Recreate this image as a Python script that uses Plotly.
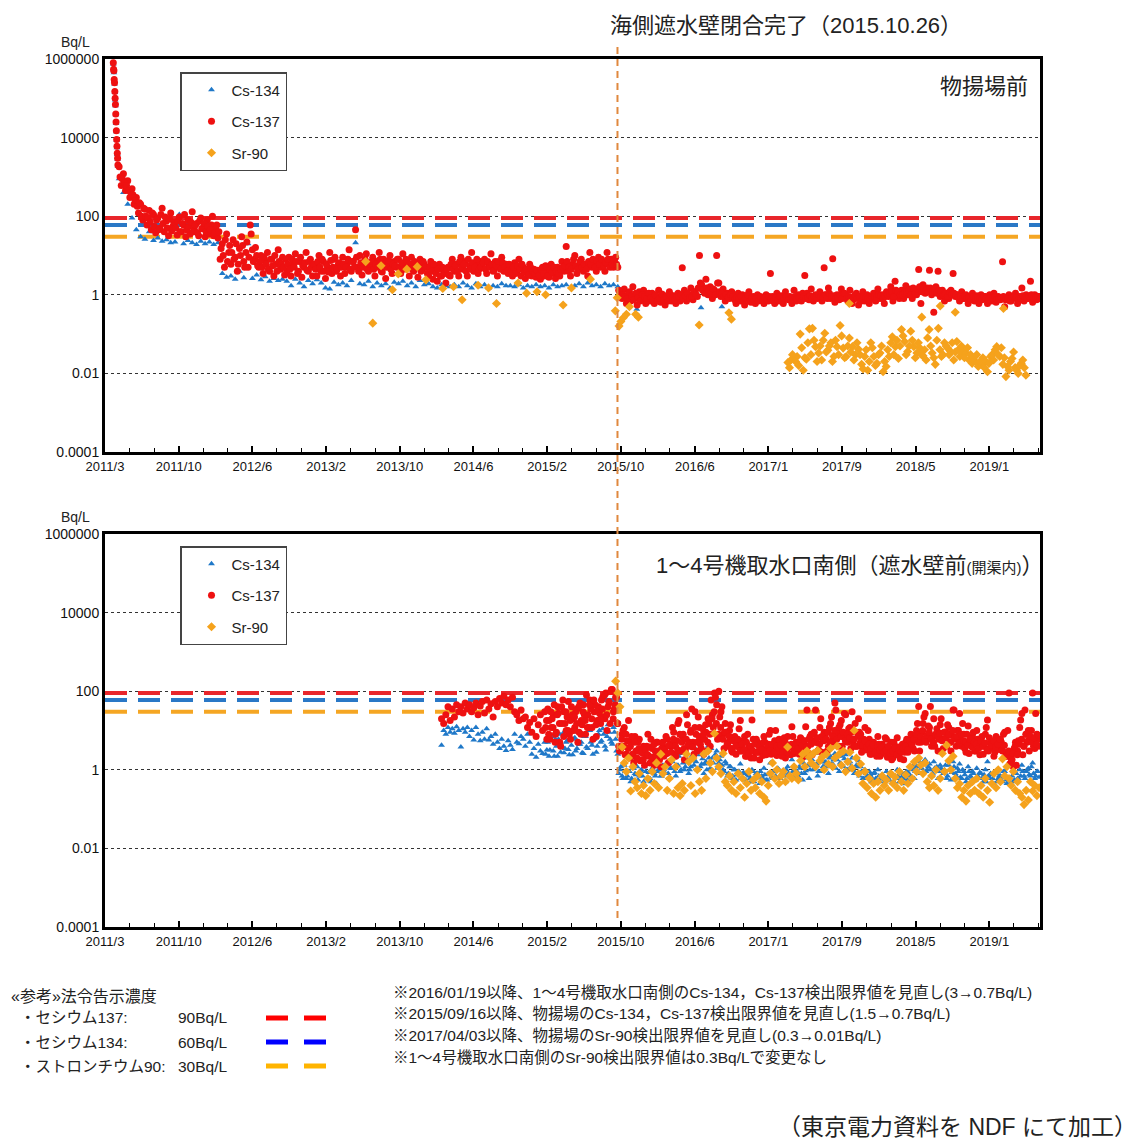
import pandas as pd
import plotly.graph_objects as go

# ---------------- axes ----------------
X_TICK_DATES = ["2011-03-01", "2011-10-27", "2012-06-23", "2013-02-18", "2013-10-16", "2014-06-13",
                "2015-02-08", "2015-10-06", "2016-06-03", "2017-01-28", "2017-09-25", "2018-05-23", "2019-01-18"]
X_TICK_LABELS = ["2011/3", "2011/10", "2012/6", "2013/2", "2013/10", "2014/6",
                 "2015/2", "2015/10", "2016/6", "2017/1", "2017/9", "2018/5", "2019/1"]
Y_TICK_VALUES = [1e-4, 1e-2, 1, 1e2, 1e4, 1e6]
Y_TICK_LABELS = ["0.0001", "0.01", "1", "100", "10000", "1000000"]
X_RANGE = ["2011-03-01", "2019-07-02"]
LIMITS = [90, 60, 30]                # Cs-137, Cs-134, Sr-90 (Bq/L)
CLOSURE_DATE = "2015-09-25"

# ---------------- 物揚場前 (top panel) ----------------
top_early_dates = ["2011-03-28", "2011-03-29", "2011-03-30", "2011-03-31", "2011-04-01", "2011-04-02",
                   "2011-04-03", "2011-04-04", "2011-04-05", "2011-04-06", "2011-04-07", "2011-04-08",
                   "2011-04-09", "2011-04-10", "2011-04-11", "2011-04-12"]
top_early_cs137 = [800000, 550000, 500000, 300000, 250000, 150000, 100000, 70000, 40000, 25000,
                   15000, 9000, 6000, 4000, 3000, 2000]
top_early_cs134 = [750000, 500000, 450000, 280000, 230000, 140000, 90000, 65000, 38000, 23000,
                   14000, 8500, 5500, 3700, 2800, 1900]

top_cs137_a_start = "2011-04-16"   # weekly
top_cs137_a = [
    1800, 600, 1200, 450, 800, 300, 500, 200, 300, 120, 200, 80, 150,
    60, 140, 45, 110, 38, 90, 50, 160, 40, 75, 32, 120, 55,
    70, 33, 95, 40, 60, 30, 80, 35, 130, 45, 65, 32, 90,
    50, 30, 80, 35, 60, 32, 45, 28, 8, 20, 5, 35, 12,
    6, 25, 9, 4, 15, 30, 7, 12, 5, 60, 14, 8, 10,
    5, 10, 3.5, 7, 12, 4, 8, 3, 6, 14, 4.5, 9, 3.2,
    4, 9, 3, 6, 11, 3.5, 7, 2.8, 5, 12, 4, 8, 3,
    6, 3, 10, 4, 7, 2.6, 5, 12, 3.5, 8, 4, 6, 3,
    9, 3.5, 6, 14, 4, 7, 45, 5, 10, 3.2, 6, 11, 4,
    5, 9, 3, 7, 12, 4, 8, 2.6, 6, 10, 3.5, 7, 5,
    8, 3.5, 11, 5, 7, 3, 9, 4, 6, 2.8, 8, 4.5, 6,
    5, 3, 7, 2.5, 4.5, 2.2, 6, 3, 4, 2, 5, 3, 8,
    4, 6, 3, 9, 4.5, 7, 3, 5.5, 12, 4, 6, 3.5, 7,
    5, 8, 3.5, 6, 11, 4, 7, 3, 5, 9, 4, 6, 3.5,
    5, 3, 6.5, 4, 8, 3, 5, 2.6, 4, 6, 3, 4.5, 2.8,
    4, 2.5, 5, 3, 4, 2.8, 6, 3.5, 2.6, 5, 3, 7, 4,
    17, 4, 3, 6, 10, 3.5, 5, 8, 4, 6, 3, 12, 5,
    6, 4, 9, 5, 7, 4, 12, 6, 8, 5, 9, 5, 1.2,
    0.8, 1.4, 0.6, 1.1, 0.7, 1.6, 0.9, 0.55, 1.2, 0.75, 1.3, 0.6, 1.0,
    0.7, 1.1, 0.6, 0.9, 1.3, 0.65, 1.0, 0.55, 0.85, 1.2, 0.7, 0.95, 0.6,
    1.1, 0.7, 4.9, 1.3, 0.7, 1.0, 1.5, 0.75, 1.2, 0.9, 10, 1.8, 1.4,
    2.5, 1.0, 1.6, 0.8, 1.3, 10, 2.0, 0.9, 1.4, 0.7, 1.1, 0.8, 1.2,
    0.9, 0.6, 1.1, 0.7, 1.0, 0.55, 0.85, 1.2, 0.65, 0.9, 0.6, 1.0, 0.75,
    0.8, 0.6, 1.0, 0.7, 3.5, 0.9, 0.6, 1.1, 0.7, 0.95, 0.6, 1.2, 0.8,
    0.9, 0.6, 1.3, 0.7, 1.0, 0.8, 1.1, 3.1, 1.1, 0.75, 1.4, 0.7, 1.0,
    0.8, 1.2, 0.7, 4.9, 1.0, 1.5, 0.8, 8.3, 0.65, 1.0, 0.75, 1.4, 0.9,
    1.0, 0.7, 1.3, 0.6, 0.9, 1.1, 0.55, 0.8, 1.2, 0.7, 1.0, 0.6, 0.9,
    1.1, 0.7, 1.4, 0.8, 1.0, 0.6, 1.2, 0.9, 1.6, 0.7, 2.2, 1.0, 0.8,
    1.3, 0.8, 1.7, 1.0, 1.4, 0.8, 1.2, 1.0, 4.4, 0.6, 1.8, 1.1, 1.5,
    4.2, 1.0, 0.36, 1.6, 4.0, 0.9, 1.3, 0.7, 1.1, 0.8, 1.3, 3.5, 0.9,
    1.0, 0.7, 1.2, 0.8, 1.0, 0.6, 0.9, 1.1, 0.7, 0.95, 0.6, 1.0, 0.8,
    0.9, 0.6, 1.0, 0.7, 1.1, 0.65, 0.9, 0.75, 6.9, 0.5, 0.85, 1.0, 0.7,
    0.8, 1.1, 0.6, 0.9, 1.5, 0.7, 1.0, 0.8, 2.2, 0.65, 1.0, 0.75, 0.9,
]
top_cs137_b_start = "2011-04-19"   # weekly, second daily sample
top_cs137_b = [
    1000, 900, 700, 600, 450, 400, 350, 250, 180, 220, 100, 160, 100,
    90, 70, 120, 55, 80, 45, 110, 65, 95, 50, 85, 42, 70,
    50, 75, 40, 65, 110, 45, 55, 70, 40, 60, 38, 75, 48,
    65, 40, 55, 45, 100, 38, 60, 40, 15, 10, 25, 7, 18,
    12, 8, 20, 6, 10, 18, 5, 22, 9, 35, 7, 16, 5.5,
    7, 5, 9, 6, 4.5, 8, 5.5, 10, 4, 7, 6, 5, 8,
    6, 4.5, 8, 5, 7, 4, 9, 5.5, 6.5, 4.2, 7, 5, 6,
    4.5, 7, 5, 8, 4, 6, 3.8, 7.5, 5, 9, 4.5, 6.5, 5,
    6, 5, 8, 4.5, 7, 5, 9, 4, 6.5, 5, 8, 4.5, 6,
    7, 4.5, 6, 5, 8, 3.8, 6, 5, 7.5, 4.5, 6, 5.5, 8,
    5, 6.5, 4.5, 8, 5, 6, 4.5, 7, 5, 6, 4, 7, 5,
    3.5, 5, 4, 6, 3.5, 4.5, 3, 5, 3.5, 4.5, 3.2, 6, 4.5,
    5.5, 4, 7, 5, 6, 4, 8, 4.5, 6.5, 5, 8, 4.5, 5,
    6.5, 4.5, 7, 5, 6, 4.2, 5.5, 7, 4.5, 6.5, 5, 4, 6,
    4, 5, 3.5, 5.5, 4.5, 6, 3.8, 4.5, 3.2, 5, 4, 3.5, 4.2,
    3.2, 4.5, 3.5, 5.5, 3, 4.5, 3.8, 5, 4, 3.5, 4.5, 5, 5.5,
    7, 5, 4.5, 8, 5.5, 4.5, 7, 5, 6, 4.5, 7, 6, 8,
    5, 7, 6, 8, 5.5, 6.5, 8, 5, 6, 7.5, 6, 1.3, 0.9,
    1.0, 0.9, 0.8, 1.2, 0.95, 0.75, 1.1, 0.85, 0.7, 1.0, 0.9, 0.8, 1.1,
    0.85, 0.75, 1.0, 0.7, 0.8, 1.05, 0.75, 0.9, 0.7, 1.0, 0.85, 0.75, 0.9,
    0.9, 1.0, 0.8, 0.95, 1.1, 0.85, 0.9, 1.2, 1.0, 1.5, 2.0, 1.3, 1.1,
    1.5, 1.3, 1.1, 1.4, 1.0, 2.0, 1.2, 1.1, 0.9, 1.0, 0.85, 1.0, 0.9,
    0.75, 0.85, 0.8, 0.9, 0.7, 0.8, 1.0, 0.7, 0.85, 0.75, 0.8, 0.7, 0.9,
    0.7, 0.85, 0.75, 0.9, 0.8, 0.7, 0.85, 0.75, 0.9, 0.7, 0.8, 0.9, 0.75,
    0.75, 0.85, 0.9, 0.8, 0.85, 0.7, 0.9, 0.8, 0.85, 0.95, 0.8, 0.9, 0.85,
    1.0, 0.9, 0.85, 1.0, 0.8, 1.1, 0.9, 0.95, 0.8, 0.85, 1.0, 0.8, 1.1,
    0.8, 0.9, 0.85, 0.75, 1.0, 0.8, 0.9, 0.7, 0.9, 0.85, 0.8, 0.75, 0.85,
    0.9, 0.85, 1.0, 0.95, 0.8, 0.9, 1.0, 1.1, 1.2, 0.9, 1.3, 1.2, 1.0,
    1.0, 1.1, 1.2, 1.3, 1.0, 1.5, 1.1, 1.4, 1.6, 1.2, 1.4, 1.3, 1.2,
    1.5, 1.2, 1.4, 1.1, 1.3, 1.2, 1.0, 1.1, 0.9, 1.2, 1.0, 1.1, 1.0,
    0.85, 0.9, 0.8, 0.95, 0.8, 0.85, 0.75, 0.9, 0.8, 0.85, 0.8, 0.75, 0.9,
    0.8, 0.75, 0.85, 0.8, 0.9, 0.75, 0.8, 0.85, 0.9, 0.75, 0.8, 0.7, 0.85,
    0.9, 0.85, 0.75, 0.8, 0.95, 0.85, 0.8, 0.9, 1.0, 0.8, 0.85, 0.9, 0.8,
]

top_cs134_start = "2011-04-16"   # every 14 days
top_cs134 = [
    900, 400, 200, 90, 45, 30, 26, 40, 24, 28, 23, 25, 21,
    22, 110, 20, 24, 21, 19, 23, 20, 22, 19, 21, 3.5, 2.8,
    3, 2.5, 4, 2.7, 20, 2.6, 3.2, 2.4, 2.9, 2.2, 2.6, 2.3, 2.5,
    2.2, 1.7, 2.5, 2.0, 1.6, 2.3, 1.9, 2.4, 2.0, 1.5, 1.4, 2.1, 1.8,
    2.0, 1.7, 2.3, 21, 1.9, 1.8, 2.2, 1.6, 2.0, 1.7, 1.9, 1.5, 2.1,
    1.9, 2.2, 1.7, 2.0, 1.6, 2.3, 1.8, 1.9, 1.6, 1.5, 1.8, 1.7, 1.6,
    1.8, 1.6, 2.0, 1.7, 1.5, 1.9, 1.6, 1.8, 1.5, 1.7, 1.6, 1.9, 1.7,
    1.7, 1.6, 1.8, 1.5, 1.7, 1.6, 1.8, 1.6, 1.7, 1.5, 1.8, 1.6, 1.7,
    1.8, 5.0, 1.7, 1.9, 1.6, 2.0, 1.7, 1.8, 1.6, 1.9, 1.7, 1.8, 1.6,
]
top_cs134_late_dates = ["2015-11-27", "2016-06-23", "2016-08-30"]
top_cs134_late = [0.43, 0.47, 0.5]

top_sr90_dates = ["2013-06-27", "2013-07-20", "2013-08-16", "2013-09-22", "2013-10-11", "2013-11-08",
                  "2013-12-12", "2014-01-09", "2014-03-05", "2014-04-09", "2014-05-07", "2014-06-28",
                  "2014-08-01", "2014-08-27", "2014-11-05", "2014-12-03", "2015-01-06", "2015-02-03",
                  "2015-04-01", "2015-04-28", "2015-06-29", "2015-09-18", "2015-09-24", "2015-09-30",
                  "2015-10-06", "2015-10-14", "2015-10-24", "2015-11-03", "2015-11-23", "2015-12-02",
                  "2016-06-17", "2016-09-22", "2016-09-30", "2017-10-19", "2018-06-12", "2018-08-11",
                  "2018-09-29", "2019-03-05"]
top_sr90 = [7.0, 0.19, 5.5, 1.35, 3.4, 4.5, 5.2, 2.4, 1.45, 1.6, 0.75, 1.75, 1.5, 0.6, 2.0, 1.1,
            1.2, 1.0, 0.55, 1.5, 2.5, 0.39, 0.84, 0.16, 0.21, 0.26, 0.32, 0.5, 0.32, 0.27, 0.17,
            0.35, 0.24, 0.6, 0.27, 0.52, 0.36, 0.45]
top_sr90_a_start = "2017-04-02"   # every 10 days
top_sr90_a = [
    0.019, 0.022, 0.024, 0.027, 0.10, 0.012, 0.023, 0.136, 0.14, 0.048, 0.033, 0.022, 0.105,
    0.039, 0.06, 0.027, 0.048, 0.165, 0.044, 0.027, 0.079, 0.048, 0.03, 0.041, 0.017, 0.027,
    0.012, 0.06, 0.027, 0.018, 0.033, 0.011, 0.015, 0.027, 0.085, 0.048, 0.024, 0.13, 0.065,
    0.036, 0.118, 0.048, 0.033, 0.044, 0.028, 0.022, 0.13, 0.033, 0.017, 0.14, 0.027, 0.06,
    0.044, 0.036, 0.022, 0.065, 0.027, 0.036, 0.033, 0.022, 0.018, 0.020, 0.015, 0.017, 0.014,
    0.011, 0.027, 0.022, 0.048, 0.027, 0.017, 0.0083, 0.012, 0.024, 0.014, 0.010, 0.018, 0.014,
]
top_sr90_b_start = "2017-04-07"   # every 10 days
top_sr90_b = [
    0.014, 0.03, 0.02, 0.016, 0.045, 0.025, 0.06, 0.03, 0.07, 0.02, 0.05, 0.07, 0.035,
    0.05, 0.02, 0.07, 0.03, 0.09, 0.025, 0.05, 0.035, 0.022, 0.06, 0.03, 0.013, 0.04,
    0.02, 0.045, 0.016, 0.03, 0.05, 0.02, 0.04, 0.06, 0.03, 0.07, 0.05, 0.09, 0.03,
    0.05, 0.07, 0.025, 0.06, 0.03, 0.04, 0.08, 0.05, 0.025, 0.07, 0.04, 0.03, 0.05,
    0.03, 0.06, 0.035, 0.04, 0.05, 0.025, 0.045, 0.03, 0.025, 0.03, 0.02, 0.025, 0.02,
    0.018, 0.03, 0.04, 0.03, 0.045, 0.025, 0.015, 0.02, 0.035, 0.012, 0.016, 0.022, 0.009,
]

# ---------------- 1~4号機取水口南側 (bottom panel) ----------------
south_cs137_a_start = "2014-03-01"   # weekly
south_cs137_a = [
    20, 15, 25, 40, 18, 35, 22, 45, 30, 40, 28, 50, 35,
    45, 30, 38, 50, 25, 42, 55, 28, 60, 35, 48, 22, 55,
    40, 65, 50, 74, 45, 60, 40, 70, 30, 25, 18, 33, 20,
    22, 12, 16, 9, 20, 7, 14, 25, 10, 30, 6, 18, 12,
    25, 8, 40, 5, 15, 30, 10, 55, 6, 20, 12, 35, 9,
    18, 45, 8, 25, 60, 12, 30, 7, 40, 15, 70, 20, 10,
    50, 110, 30, 70, 15, 3, 8, 12, 2.5, 18, 5, 2.2, 7,
    3, 6, 1.8, 4, 2.3, 8, 1.5, 3.5, 1.3, 5, 2, 1.2, 4,
    2.5, 6, 1.6, 4.5, 9, 2.2, 15, 3, 7, 1.8, 25, 4, 10,
    5, 30, 3, 12, 6, 2.5, 9, 20, 4, 25, 90, 45, 100,
    30, 8, 15, 4, 10, 3, 6, 2.5, 5, 18, 3.5, 7, 2.2,
    4, 2, 6, 2.8, 5, 1.8, 3.5, 7, 2.4, 4.5, 10, 3, 5.5,
    2.3, 6, 3.2, 4.5, 2, 7, 3.8, 12.5, 2.6, 5, 3, 6.5, 2.1,
    4, 33, 2.6, 8, 5.5, 33, 3, 12, 2.8, 9, 6, 4, 15,
    6, 50, 10, 4, 18, 7, 25, 5, 12, 30, 4, 9, 20,
    8, 3.5, 12, 4, 6, 2.5, 5, 3, 7, 2.2, 4.5, 2.8, 6,
    3, 5, 2, 4, 6.5, 2.5, 3.5, 1.8, 5, 2.8, 4, 7, 3,
    10, 41, 5, 15, 27, 7, 12, 4, 20, 8, 3, 14, 6,
    9, 4, 12, 3, 33, 6, 10, 27, 4, 8, 2.8, 13, 5,
    7, 3, 10, 4, 6, 2.5, 8, 18.5, 3.5, 5, 2.2, 7, 4,
    6, 3, 9, 2.5, 90, 1.5, 1.2, 5, 3, 12, 27, 4, 8,
    10, 6, 90, 3.5, 8, 4,
]
south_cs137_b_start = "2015-02-03"   # weekly
south_cs137_b = [
    12, 35, 6, 20, 45, 9, 28, 4, 60, 15, 22, 8, 40,
    10, 30, 5, 50, 14, 25, 80, 12, 35, 6, 45, 18, 28,
    60, 22, 90, 40, 15, 110, 35, 70, 4, 3.5, 10, 2.4, 5.5,
    2, 7, 1.5, 3, 5, 1.7, 2.7, 1.3, 4, 2.2, 6, 1.6, 3,
    5, 1.8, 3.5, 2.2, 7, 1.5, 4, 12, 2.5, 5.5, 18, 3, 8,
    3, 14, 5, 35, 2.5, 8, 22, 4.5, 11, 6, 3, 15, 60,
    12, 70, 6, 22, 40, 3.5, 9, 5, 14, 2.8, 7, 4, 11,
    3, 5.5, 2.2, 8, 3.5, 18.5, 2, 6, 2.8, 4.5, 2.3, 5, 3.5,
    8, 2.5, 4, 10, 3, 5.5, 2.2, 6.5, 3.5, 4.2, 2.4, 7, 3,
    5, 2.5, 6, 3.5, 12.5, 4, 7, 2.4, 9, 5, 3.2, 20, 6,
    8, 3, 12, 22, 5, 33, 8.5, 14, 4, 27, 6, 11, 3.5,
    5, 15, 4, 9, 2.8, 6, 3.2, 10, 2.5, 5, 3.5, 2.2, 4.5,
    2.5, 4, 6.5, 2.1, 3.5, 1.8, 5, 2.6, 3.8, 1.9, 4.5, 2.8, 6,
    4, 8, 3.5, 6, 15, 3, 9, 22, 5, 13, 41, 7, 4,
    11, 6, 20, 3.5, 9, 14, 5, 7.5, 33, 4, 10, 6, 15,
    3.5, 8, 2.6, 5.5, 9, 3, 6, 2.4, 7, 4, 12, 3, 5,
    4, 2.8, 6, 3.3, 5, 8, 2.2, 10, 1.4, 1.8, 3.5, 1.3, 5.5,
    18.5, 2.4, 33, 5, 3, 10, 4, 27, 6,
]
south_cs137_c_start = "2015-02-06"   # weekly
south_cs137_c = [
    18, 8, 30, 12, 5, 25, 15, 40, 7, 30, 10, 18, 25,
    22, 15, 40, 8, 30, 18, 12, 45, 20, 60, 14, 35, 20,
    35, 80, 25, 55, 100, 20, 45, 15, 3, 6, 4, 8, 3.5,
    4, 2.5, 5, 2, 3.5, 2.8, 1.8, 3.2, 2.4, 3.8, 2.1, 4.5, 2.3,
    3, 2.4, 5, 3.2, 2.6, 4.2, 2.8, 6, 4, 3.2, 8, 5, 3.5,
    6, 4.5, 9, 3.8, 12, 5, 7, 3.5, 8, 14, 5, 8, 20,
    30, 15, 8, 12, 6, 9, 4.5, 7, 3.5, 5.5, 4, 6, 3,
    4.5, 3.2, 5, 2.6, 4, 3, 4.5, 2.8, 3.8, 3.2, 5, 2.6, 4.2,
    3.2, 4.5, 2.8, 4, 3.5, 4.2, 3, 5, 2.8, 3.8, 4.5, 3, 4.2,
    3.5, 5, 4.2, 5.5, 3.8, 6, 4.5, 8, 5, 6.5, 4.5, 7, 5.5,
    6, 9, 5, 7.5, 10, 6, 12, 7, 9, 5.5, 8, 6.5, 9,
    6, 4, 7, 5, 4.2, 5.5, 3.8, 4.5, 3.5, 4.2, 2.8, 4, 3.2,
    3.8, 2.8, 3.2, 4, 2.6, 3, 3.6, 2.4, 3.2, 2.9, 3.5, 4, 3.2,
    5.5, 4.5, 6, 8, 5, 7, 10, 6, 7.5, 9, 6, 5, 8,
    7, 8.5, 5.5, 9, 6.5, 8, 5, 10, 6.5, 7, 4.8, 8, 5.5,
    5.2, 4.2, 6, 3.8, 5, 4.5, 3.5, 5.5, 4, 4.8, 3.2, 6.5, 4.2,
    5.5, 3.8, 4.5, 6, 3.2, 4.2, 2.2, 3, 2, 2.6, 4, 2.4, 4.5,
    6, 4, 8, 5.5, 7, 5, 6.5, 4.5, 7.5,
]
south_cs134_a_start = "2014-03-01"   # weekly
south_cs134_a = [
    4.2, 10, 8, 12, 9, 11, 8.5, 12.5, 10, 3.8, 11, 9, 12,
    7, 10, 5.7, 12, 8, 5.5, 9, 6, 11, 5.7, 7, 4.5, 8,
    5, 3.5, 6, 4, 3.1, 5.5, 4.2, 3.3, 8, 5, 4.6, 7, 6,
    4, 8, 5, 2.5, 3.5, 2.1, 4.5, 3, 2.6, 5, 3.2, 2.2, 6,
    3, 6, 2.2, 8, 4, 2.7, 5, 3.3, 9, 2.4, 6.5, 3.5, 4.5,
    5, 2.6, 7, 3.5, 10, 4.2, 6, 2.8, 8, 5, 11, 4, 7,
    9, 5, 12, 6, 2.5, 1.0, 0.7, 1.3, 0.6, 0.9, 0.5, 1.1, 0.8,
    1.2, 0.7, 1.0, 0.5, 0.9, 1.4, 0.6, 1.1, 0.8, 0.45, 1.0, 0.7, 1.3,
    0.8, 1.5, 0.6, 1.1, 2.0, 0.7, 1.3, 0.9, 2.6, 1.0, 1.6, 0.8, 1.2,
    1.8, 3.5, 1.0, 2.4, 1.4, 0.8, 1.6, 4.0, 1.1, 2.0, 8, 3, 1.5,
    2.2, 1.0, 1.6, 0.7, 1.2, 0.6, 1.0, 0.55, 0.9, 1.4, 0.6, 0.8, 0.5,
    0.7, 0.5, 0.9, 0.6, 0.8, 0.45, 0.7, 1.1, 0.55, 0.8, 1.5, 0.6, 0.9,
    0.6, 1.0, 0.7, 0.85, 0.5, 1.2, 0.75, 1.8, 0.6, 0.9, 0.7, 1.1, 0.55,
    0.8, 2.0, 0.6, 1.3, 1.0, 2.6, 0.7, 1.6, 0.9, 1.2, 1.5, 0.8, 2.2,
    1.4, 2.6, 1.8, 0.9, 2.2, 1.2, 2.4, 1.0, 1.6, 2.0, 0.8, 1.3, 1.7,
    1.2, 0.6, 1.0, 0.7, 0.9, 0.5, 0.8, 0.6, 1.0, 0.5, 0.75, 0.55, 0.9,
    0.55, 0.8, 0.45, 0.7, 1.0, 0.5, 0.65, 0.44, 0.85, 0.55, 0.7, 1.1, 0.6,
    1.2, 2.0, 0.8, 1.5, 1.8, 1.0, 1.4, 0.7, 1.6, 1.1, 0.6, 1.3, 0.9,
    1.0, 0.6, 1.3, 0.55, 1.6, 0.8, 1.1, 1.4, 0.6, 0.9, 0.5, 1.2, 0.7,
    0.9, 0.55, 1.1, 0.6, 0.8, 0.5, 1.0, 1.6, 0.6, 0.75, 0.45, 0.9, 0.6,
    0.7, 0.5, 0.9, 0.45, 1.5, 0.44, 0.5, 0.8, 0.6, 1.0, 1.3, 0.7, 0.9,
    1.1, 0.7, 1.5, 0.6, 0.9, 0.65,
]
south_cs134_b_start = "2015-02-03"   # weekly
south_cs134_b = [
    2.5, 5, 3.2, 7, 2.2, 4, 6, 2.8, 8.4, 3.5, 5.5, 2.4, 4.2,
    6, 3, 9, 4.5, 2.7, 7, 3.8, 12, 5, 2.5, 6.5, 4, 10,
    5.5, 8, 3.2, 14, 6, 4.5, 9, 3, 0.8, 1.2, 0.6, 0.9, 0.7,
    0.9, 0.6, 1.1, 0.75, 0.55, 0.95, 0.7, 1.2, 0.6, 0.85, 0.5, 1.0, 0.7,
    0.9, 1.2, 0.7, 1.0, 1.4, 0.8, 1.1, 1.6, 0.9, 1.3, 2.2, 1.0, 1.5,
    1.2, 1.8, 1.0, 2.2, 1.3, 1.6, 2.8, 1.2, 1.9, 1.4, 1.0, 2.0, 3.5,
    1.5, 2.5, 1.1, 1.8, 1.3, 0.9, 1.4, 0.8, 1.2, 0.7, 1.0, 0.75, 0.9,
    0.6, 0.85, 0.55, 0.75, 0.6, 1.0, 0.5, 0.8, 0.65, 0.9, 0.6, 0.75, 0.55,
    0.8, 0.65, 0.9, 0.7, 1.1, 0.6, 0.85, 0.7, 1.0, 0.8, 0.65, 0.9, 0.75,
    0.9, 1.2, 0.8, 1.5, 0.95, 1.3, 1.0, 1.8, 1.1, 1.4, 0.9, 1.6, 1.2,
    1.6, 1.2, 2.0, 1.4, 1.8, 1.1, 2.2, 1.5, 1.3, 1.9, 1.0, 1.5, 1.2,
    1.0, 0.8, 1.2, 0.7, 0.9, 0.6, 0.8, 0.65, 0.75, 0.6, 0.85, 0.55, 0.7,
    0.6, 0.7, 0.5, 0.65, 0.55, 0.75, 0.5, 0.6, 0.7, 0.5, 0.8, 0.6, 0.9,
    0.8, 1.0, 1.3, 0.9, 1.2, 1.6, 1.1, 1.4, 0.9, 1.2, 1.0, 0.8, 1.1,
    1.2, 0.9, 1.1, 0.8, 1.3, 0.7, 1.0, 0.85, 1.2, 0.7, 0.9, 0.65, 1.0,
    0.75, 0.6, 0.9, 0.65, 0.8, 0.55, 0.7, 0.85, 0.6, 0.75, 0.5, 0.7, 0.8,
    0.6, 0.8, 0.5, 0.7, 0.65, 0.9, 0.55, 0.6, 0.45, 0.7, 0.55, 0.8, 0.6,
    0.7, 0.9, 0.6, 1.0, 0.75, 1.2, 0.8, 0.7, 0.9,
]
south_sr90_start = "2015-09-19"   # weekly
south_sr90 = [
    180, 90, 40, 3.8, 1.5, 0.9, 2.0, 0.29, 1.2, 0.5, 0.35, 0.8, 0.25,
    0.4, 0.22, 0.6, 0.3, 0.9, 0.45, 1.5, 0.35, 2.5, 0.8, 1.2, 0.3, 0.6,
    1.8, 0.25, 1.2, 0.35, 0.22, 0.45, 0.3, 2.5, 1.6, 0.4, 2.0, 0.25, 1.0,
    0.5, 0.3, 2.5, 0.6, 3.0, 1.5, 0.9, 8.4, 2.0, 1.2, 0.8, 2.6, 0.5,
    0.4, 0.7, 0.3, 0.5, 0.25, 0.8, 0.35, 0.6, 0.2, 0.45, 0.9, 0.3, 0.55,
    0.35, 0.7, 0.25, 0.5, 0.2, 0.16, 0.4, 0.8, 1.5, 0.6, 1.0, 0.45, 0.7,
    0.9, 0.5, 3.8, 0.7, 0.6, 1.2, 0.8, 0.55, 1.7, 2.5, 1.2, 3.0, 2.1,
    1.5, 2.6, 1.2, 3.1, 1.7, 2.1, 1.0, 2.5, 1.4, 3.5, 1.2, 2.0, 4.0,
    2.5, 1.3, 3.0, 0.9, 1.6, 2.8, 1.1, 10, 2.0, 0.8, 1.4, 0.45, 0.9,
    0.35, 0.6, 0.25, 0.45, 0.2, 0.5, 0.3, 0.7, 0.4, 0.55, 0.3, 0.8, 0.45,
    0.65, 0.35, 0.9, 0.5, 0.3, 0.75, 0.45, 1.2, 0.6, 1.6, 0.9, 2.0, 1.3,
    0.8, 1.5, 0.5, 0.35, 0.7, 0.4, 1.0, 0.3, 0.6, 2.6, 0.9, 4.2, 1.7,
    1.0, 2.2, 0.6, 0.35, 0.44, 0.2, 0.3, 0.16, 0.4, 0.25, 0.5, 0.3, 0.6,
    0.25, 0.4, 0.2, 0.6, 0.3, 0.15, 0.45, 0.8, 0.35, 1.0, 0.5, 1.9, 0.7,
    1.2, 0.6, 0.4, 0.9, 0.3, 0.5, 0.25, 0.2, 0.13, 0.3, 0.17, 0.5, 0.29,
    0.4, 0.22, 0.35,
]

# ---------------- styling ----------------
COL = {"Cs-134": "#1f78c8", "Cs-137": "#ee1111", "Sr-90": "#f5a21c"}
SYM = {"Cs-134": "triangle-up", "Cs-137": "circle", "Sr-90": "diamond"}
SIZE = {"Cs-134": 6, "Cs-137": 7, "Sr-90": 7}
LIMIT_COLORS = ["#e8262b", "#2a78c6", "#f5a623"]
LATIN = "Liberation Sans, Arial, sans-serif"
JP = "Liberation Sans, Noto Sans CJK JP, sans-serif"

# page offset: the html body adds an 8px margin around the figure
OFF = 8
W = H = 1142 - OFF
# plot area in page pixels (used for text placement)
PL, PR, PT, PB = 105, 1040, 59, 927


def px(xp):
    return (xp - PL) / (PR - PL)


def py(yp):
    return (PB - yp) / (PB - PT)


def grid(start, vals, step):
    return pd.date_range(start, periods=len(vals), freq=f"{step}D")


fig = go.Figure()


def add_limits(xa, ya):
    for v, c in zip(LIMITS, LIMIT_COLORS):
        fig.add_trace(go.Scatter(x=X_RANGE, y=[v, v], mode="lines", xaxis=xa, yaxis=ya,
                                 line=dict(color=c, width=4, dash="22px,11px"),
                                 showlegend=False, hoverinfo="skip"))


def add_pts(name, x, y, xa, ya, legend, show):
    fig.add_trace(go.Scatter(x=list(x), y=y, mode="markers", name=name, xaxis=xa, yaxis=ya,
                             legend=legend, legendgroup=legend + name, showlegend=show,
                             marker=dict(symbol=SYM[name], color=COL[name], size=SIZE[name],
                                         line=dict(width=0))))


# top panel
add_limits("x", "y")
add_pts("Cs-134", grid(top_cs134_start, top_cs134, 14), top_cs134, "x", "y", "legend", True)
add_pts("Cs-134", top_early_dates, top_early_cs134, "x", "y", "legend", False)
add_pts("Cs-134", top_cs134_late_dates, top_cs134_late, "x", "y", "legend", False)
add_pts("Cs-137", grid(top_cs137_a_start, top_cs137_a, 7), top_cs137_a, "x", "y", "legend", True)
add_pts("Cs-137", grid(top_cs137_b_start, top_cs137_b, 7), top_cs137_b, "x", "y", "legend", False)
add_pts("Cs-137", top_early_dates, top_early_cs137, "x", "y", "legend", False)
add_pts("Sr-90", top_sr90_dates, top_sr90, "x", "y", "legend", True)
add_pts("Sr-90", grid(top_sr90_a_start, top_sr90_a, 10), top_sr90_a, "x", "y", "legend", False)
add_pts("Sr-90", grid(top_sr90_b_start, top_sr90_b, 10), top_sr90_b, "x", "y", "legend", False)

# bottom panel
add_limits("x2", "y2")
add_pts("Cs-134", grid(south_cs134_a_start, south_cs134_a, 7), south_cs134_a, "x2", "y2", "legend2", True)
add_pts("Cs-134", grid(south_cs134_b_start, south_cs134_b, 7), south_cs134_b, "x2", "y2", "legend2", False)
add_pts("Cs-137", grid(south_cs137_a_start, south_cs137_a, 7), south_cs137_a, "x2", "y2", "legend2", True)
add_pts("Cs-137", grid(south_cs137_b_start, south_cs137_b, 7), south_cs137_b, "x2", "y2", "legend2", False)
add_pts("Cs-137", grid(south_cs137_c_start, south_cs137_c, 7), south_cs137_c, "x2", "y2", "legend2", False)
add_pts("Sr-90", grid(south_sr90_start, south_sr90, 7), south_sr90, "x2", "y2", "legend2", True)

xa_common = dict(type="date", range=X_RANGE, tickmode="array", tickvals=X_TICK_DATES,
                 ticktext=X_TICK_LABELS, ticks="inside", ticklen=6, tickwidth=1.5, tickcolor="black",
                 showline=True, linewidth=3, linecolor="black", mirror=True, showgrid=False,
                 zeroline=False, tickfont=dict(family=LATIN, size=13, color="#111"),
                 minor=dict(ticks="inside", ticklen=4, tickcolor="black", tickwidth=1,
                            tick0=X_RANGE[0], dtick=80 * 86400000, showgrid=False))
ya_common = dict(type="log", range=[-4, 6], tickmode="array", tickvals=Y_TICK_VALUES,
                 ticktext=Y_TICK_LABELS, ticks="", showline=True, linewidth=3, linecolor="black",
                 mirror=True, showgrid=True, gridcolor="#333", gridwidth=1, griddash="dot",
                 zeroline=False, tickfont=dict(family=LATIN, size=14, color="#111"))

legend_common = dict(xanchor="left", yanchor="top", bordercolor="#444", borderwidth=1.5,
                     bgcolor="white", font=dict(family=LATIN, size=15, color="#222"),
                     tracegroupgap=9, itemsizing="trace", traceorder="grouped",
                     indentation=10, entrywidth=88, entrywidthmode="pixels")

fig.update_layout(
    width=W, height=H, paper_bgcolor="white", plot_bgcolor="white",
    margin=dict(l=PL - OFF, r=W - (PR - OFF), t=PT - OFF, b=H - (PB - OFF)),
    xaxis=dict(domain=[0, 1], anchor="y", **xa_common),
    yaxis=dict(domain=[py(452), 1], anchor="x", **ya_common),
    xaxis2=dict(domain=[0, 1], anchor="y2", **xa_common),
    yaxis2=dict(domain=[0, py(534)], anchor="x2", **ya_common),
    legend=dict(x=px(180), y=py(72), **legend_common),
    legend2=dict(x=px(180), y=py(546), **legend_common),
    showlegend=True,
)

shapes = [dict(type="line", xref="x", yref="paper", x0=CLOSURE_DATE, x1=CLOSURE_DATE,
               y0=py(918), y1=py(45), line=dict(color="#e0883e", width=2, dash="7px,5px"))]
dash_rows = [(1018, "#ff0000"), (1042, "#0000ff"), (1066, "#ffb400")]
for yp, c in dash_rows:
    for x0, x1 in [(266, 288), (304, 326)]:
        shapes.append(dict(type="line", xref="paper", yref="paper", x0=px(x0), x1=px(x1),
                           y0=py(yp), y1=py(yp), line=dict(color=c, width=5)))
fig.update_layout(shapes=shapes)


def ann(text, xp, yp, size, anchor="left", family=JP):
    return dict(text=text, x=px(xp), y=py(yp), xref="paper", yref="paper", showarrow=False,
                xanchor=anchor, yanchor="middle", font=dict(family=family, size=size, color="#222"))


notes = [
    "※2016/01/19以降、1～4号機取水口南側のCs-134，Cs-137検出限界値を見直し(3→0.7Bq/L)",
    "※2015/09/16以降、物揚場のCs-134，Cs-137検出限界値を見直し(1.5→0.7Bq/L)",
    "※2017/04/03以降、物揚場のSr-90検出限界値を見直し(0.3→0.01Bq/L)",
    "※1～4号機取水口南側のSr-90検出限界値は0.3Bq/Lで変更なし",
]
annotations = [
    ann("Bq/L", 75, 42, 14, "center", LATIN),
    ann("Bq/L", 75, 517, 14, "center", LATIN),
    ann("海側遮水壁閉合完了（2015.10.26）", 786, 25, 22, "center"),
    ann("物揚場前", 1030, 87, 22, "right"),
    ann("1～4号機取水口南側（遮水壁前<span style='font-size:15px'>(開渠内)</span>）", 1046, 565, 22, "right"),
    ann("«参考»法令告示濃度", 9, 997, 16),
    ann("・セシウム137:", 18, 1018, 15.5),
    ann("90Bq/L", 176, 1018, 15.5),
    ann("・セシウム134:", 18, 1042, 15.5),
    ann("60Bq/L", 176, 1042, 15.5),
    ann("・ストロンチウム90:", 18, 1066, 15.5),
    ann("30Bq/L", 176, 1066, 15.5),
    ann("（東京電力資料を NDF にて加工）", 1139, 1127, 23, "right"),
]
for i, t in enumerate(notes):
    annotations.append(ann(t, 391, 992 + 21.7 * i, 15.5))
fig.update_layout(annotations=annotations)

fig.write_html("out.html")
